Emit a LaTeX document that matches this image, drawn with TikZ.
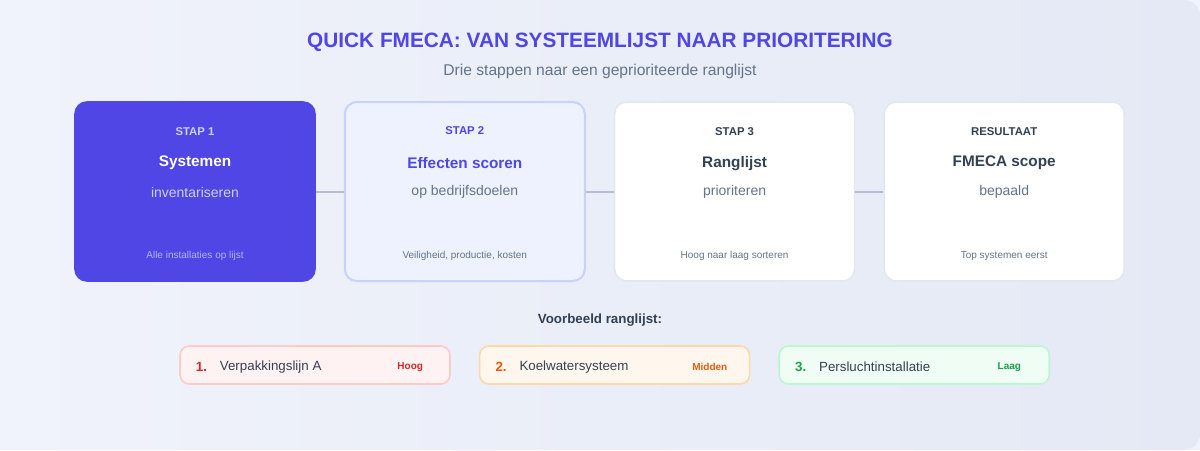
\documentclass[tikz,border=0pt]{standalone}
\usepackage{fontspec}
\setmainfont{Liberation Sans}
\usepackage{xcolor}
\usetikzlibrary{positioning, calc}

\definecolor{indigo}{HTML}{4F46E5}
\definecolor{indigolight}{HTML}{C7D2FE}
\definecolor{indigopale}{HTML}{EEF2FF}
\definecolor{slatedark}{HTML}{334155}
\definecolor{slatemid}{HTML}{64748B}
\definecolor{cardline}{HTML}{E2E8F0}
\definecolor{linkline}{HTML}{B8BCD6}
\definecolor{bgtop}{HTML}{F0F3FB}
\definecolor{bgbottom}{HTML}{E4E9F5}
\definecolor{hoogfill}{HTML}{FEF2F2}
\definecolor{hoogline}{HTML}{FECACA}
\definecolor{hoogtext}{HTML}{DC2626}
\definecolor{middenfill}{HTML}{FFF7ED}
\definecolor{middenline}{HTML}{FED7AA}
\definecolor{middentext}{HTML}{EA580C}
\definecolor{laagfill}{HTML}{F0FDF4}
\definecolor{laagline}{HTML}{BBF7D0}
\definecolor{laagtext}{HTML}{16A34A}
\definecolor{itemtext}{HTML}{374151}

\begin{document}
\begin{tikzpicture}[
        x=0.75pt, y=-0.75pt,
        node distance=21pt,
        card/.style={rectangle, draw=cardline, line width=1.2pt, fill=white, rounded corners=9pt, minimum width=180pt, minimum height=134.25pt, inner sep=0pt},
        activecard/.style={card, draw=indigo, fill=indigo},
        focuscard/.style={card, draw=indigolight, fill=indigopale, line width=1.5pt},
        steplabel/.style={font=\fontsize{8.5}{10}\selectfont\bfseries, text=slatedark},
        steptitle/.style={font=\fontsize{11.5}{14}\selectfont\bfseries, text=slatedark},
        stepsub/.style={font=\fontsize{10.5}{12}\selectfont, text=slatemid},
        stepnote/.style={font=\fontsize{7.5}{9}\selectfont, text=slatemid},
        rankbox/.style={rectangle, line width=1.2pt, rounded corners=7pt, minimum width=202.5pt, minimum height=28.5pt, inner sep=0pt},
        ranknum/.style={font=\fontsize{10}{12}\selectfont\bfseries, anchor=west},
        rankname/.style={font=\fontsize{10}{12}\selectfont, text=itemtext, anchor=west},
        rankbadge/.style={font=\fontsize{7.5}{9}\selectfont\bfseries},
        link/.style={draw=linkline, line width=1.5pt}
    ]
    \useasboundingbox (0,0) rectangle (1200,450);
    \fill[bgtop] (0,0) rectangle (1200,450);
    \shade[left color=bgtop, right color=bgbottom, rounded corners=12pt] (0,0) rectangle (1200,450);

    % title
    \node[font=\fontsize{15.6}{18}\selectfont\bfseries, text=indigo] (title) at (600,42) {QUICK FMECA: VAN SYSTEEMLIJST NAAR PRIORITERING};
    \node[font=\fontsize{11.7}{14}\selectfont, text=slatemid] (subtitle) at (600,71) {Drie stappen naar een geprioriteerde ranglijst};

    % steps
    \node[activecard] (stap1) at (195,191.5) {};
    \node[focuscard, right=of stap1] (stap2) {};
    \node[card, right=of stap2] (stap3) {};
    \node[card, right=of stap3] (result) {};

    \path[link] (stap1) -- (stap2);
    \path[link] (stap2) -- (stap3);
    \path[link] (stap3) -- (result);

    \node[steplabel, text=indigolight] (lab1) at ($(stap1.north)+(0,30)$) {STAP 1};
    \node[steptitle, text=white] (tit1) at ($(stap1.north)+(0,62)$) {Systemen};
    \node[stepsub, text=indigolight] (sub1) at ($(stap1.north)+(0,91)$) {inventariseren};
    \node[stepnote, text=indigolight!80!indigo] (note1) at ($(stap1.north)+(0,155)$) {Alle installaties op lijst};

    \node[steplabel, text=indigo] (lab2) at ($(stap2.north)+(0,30)$) {STAP 2};
    \node[steptitle, text=indigo] (tit2) at ($(stap2.north)+(0,62)$) {Effecten scoren};
    \node[stepsub] (sub2) at ($(stap2.north)+(0,91)$) {op bedrijfsdoelen};
    \node[stepnote] (note2) at ($(stap2.north)+(0,155)$) {Veiligheid, productie, kosten};

    \node[steplabel] (lab3) at ($(stap3.north)+(0,30)$) {STAP 3};
    \node[steptitle] (tit3) at ($(stap3.north)+(0,62)$) {Ranglijst};
    \node[stepsub] (sub3) at ($(stap3.north)+(0,91)$) {prioriteren};
    \node[stepnote] (note3) at ($(stap3.north)+(0,155)$) {Hoog naar laag sorteren};

    \node[steplabel] (lab4) at ($(result.north)+(0,30)$) {RESULTAAT};
    \node[steptitle] (tit4) at ($(result.north)+(0,62)$) {FMECA scope};
    \node[stepsub] (sub4) at ($(result.north)+(0,91)$) {bepaald};
    \node[stepnote] (note4) at ($(result.north)+(0,155)$) {Top systemen eerst};

    % example ranking
    \node[font=\fontsize{10}{12}\selectfont\bfseries, text=slatedark] (example) at (600,320) {Voorbeeld ranglijst:};

    \node[rankbox, draw=hoogline, fill=hoogfill] (rank1) at (315,365) {};
    \node[rankbox, draw=middenline, fill=middenfill, right=21pt of rank1] (rank2) {};
    \node[rankbox, draw=laagline, fill=laagfill, right=21pt of rank2] (rank3) {};

    \node[ranknum, text=hoogtext] (num1) at ($(rank1.west)+(12,2)$) {1.};
    \node[rankname] (name1) at ($(rank1.west)+(36,2)$) {Verpakkingslijn A};
    \node[rankbadge, text=hoogtext] (badge1) at ($(rank1.west)+(231,2)$) {Hoog};

    \node[ranknum, text=middentext] (num2) at ($(rank2.west)+(12,2)$) {2.};
    \node[rankname] (name2) at ($(rank2.west)+(36,2)$) {Koelwatersysteem};
    \node[rankbadge, text=middentext] (badge2) at ($(rank2.west)+(231,2)$) {Midden};

    \node[ranknum, text=laagtext] (num3) at ($(rank3.west)+(12,2)$) {3.};
    \node[rankname] (name3) at ($(rank3.west)+(36,2)$) {Persluchtinstallatie};
    \node[rankbadge, text=laagtext] (badge3) at ($(rank3.west)+(231,2)$) {Laag};
\end{tikzpicture}
\end{document}
